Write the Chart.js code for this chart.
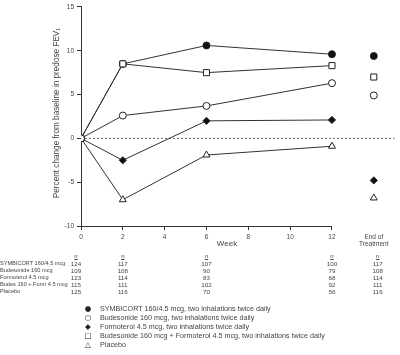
<!DOCTYPE html>
<html>
<head>
<meta charset="utf-8">
<script src="https://cdn.jsdelivr.net/npm/chart.js@4"></script>
<style>
  body { margin: 0; background: #fff; }
  #wrap { position: relative; width: 400px; height: 355px; font-family: "Liberation Sans", Arial, sans-serif; color: #444; }
  #myChart { position: absolute; left: 0; top: 0; }
  .t { position: absolute; white-space: nowrap; line-height: 1; }
  .sym { font-family: "DejaVu Sans", sans-serif; color: #222; }
</style>
</head>
<body>
<div id="wrap">
  <canvas id="myChart" width="400" height="355"></canvas>
</div>
<script>
const ctx = document.getElementById('myChart');
const wrap = document.getElementById('wrap');

// weeks of measurement, plus the "End of Treatment" column placed at x = 14
const weeks = [0, 2, 6, 12];
const EOT = 14;
const xTicks = [0, 2, 4, 6, 8, 10, 12, EOT];

// percent change from baseline in predose FEV1
const symbicort   = [0, 8.5, 10.6, 9.6];
const budesonide  = [0, 2.6, 3.7, 6.3];
const formoterol  = [0, -2.5, 2.0, 2.1];
const combination = [0, 8.5, 7.5, 8.3];
const placebo     = [0, -7.0, -1.9, -0.9];

// end of treatment values
const symbicortEot   = 9.4;
const budesonideEot  = 4.9;
const formoterolEot  = -4.8;
const combinationEot = 7.0;
const placeboEot     = -6.8;

// n table
const tableRows = ['SYMBICORT 160/4.5 mcg', 'Budesonide 160 mcg', 'Formoterol 4.5 mcg', 'Budes 160 + Form 4.5 mcg', 'Placebo'];
const tableCols = [0, 2, 6, 12, EOT];
const nSymbicort   = [124, 117, 107, 100, 117];
const nBudesonide  = [109, 108, 90, 79, 108];
const nFormoterol  = [123, 114, 83, 68, 114];
const nCombination = [115, 111, 102, 92, 111];
const nPlacebo     = [125, 116, 70, 56, 116];

const legendSymbols = ['\u25CF', '\u25CB', '\u25C6', '\u25A1', '\u25B3'];
const legendLabels = [
  'SYMBICORT 160/4.5 mcg, two inhalations twice daily',
  'Budesonide 160 mcg, two inhalations twice daily',
  'Formoterol 4.5 mcg, two inhalations twice daily',
  'Budesonide 160 mcg + Formoterol 4.5 mcg, two inhalations twice daily',
  'Placebo'
];

function pts(values) {
  return values.map((v, i) => ({ x: weeks[i], y: v }));
}

const LINE = '#333';

function series(values, style, radius, fill) {
  return {
    data: pts(values),
    borderColor: LINE,
    borderWidth: 1,
    pointStyle: style,
    pointRadius: radius,
    pointBackgroundColor: fill,
    pointBorderColor: '#222',
    pointBorderWidth: 1
  };
}

function eot(value, style, radius, fill) {
  return {
    data: [{ x: EOT, y: value }],
    showLine: false,
    pointStyle: style,
    pointRadius: radius,
    pointBackgroundColor: fill,
    pointBorderColor: '#222',
    pointBorderWidth: 1
  };
}

// draws the x axis line only across weeks 0..12
const xAxisLine = {
  id: 'xAxisLine',
  beforeDatasetsDraw(chart) {
    const x = chart.scales.x;
    const c = chart.ctx;
    const y = chart.chartArea.bottom;
    c.save();
    c.strokeStyle = LINE;
    c.lineWidth = 1;
    c.beginPath();
    c.moveTo(x.getPixelForValue(0), y + 0.5);
    c.lineTo(x.getPixelForValue(12), y + 0.5);
    c.stroke();
    c.restore();
  }
};

const chart = new Chart(ctx, {
  type: 'line',
  data: {
    datasets: [
      series(budesonide, 'circle', 3.5, '#fff'),
      series(combination, 'rect', 4.3, '#fff'),
      series(placebo, 'triangle', 4, '#fff'),
      series(formoterol, 'rectRot', 3.6, '#111'),
      series(symbicort, 'circle', 3.5, '#111'),
      eot(budesonideEot, 'circle', 3.5, '#fff'),
      eot(combinationEot, 'rect', 4.3, '#fff'),
      eot(placeboEot, 'triangle', 4, '#fff'),
      eot(formoterolEot, 'rectRot', 3.6, '#111'),
      eot(symbicortEot, 'circle', 3.5, '#111'),
      {
        data: [{ x: 0, y: 0 }, { x: 15, y: 0 }],
        borderColor: '#666',
        borderWidth: 1,
        borderDash: [2, 2],
        pointRadius: 0,
        order: 10
      }
    ]
  },
  options: {
    responsive: false,
    animation: false,
    layout: { padding: { top: 4, left: 0, right: 0, bottom: 0 } },
    plugins: { legend: { display: false }, tooltip: { enabled: false } },
    scales: {
      x: {
        type: 'linear',
        min: 0,
        max: 15,
        afterBuildTicks: s => { s.ticks = xTicks.map(v => ({ value: v })); },
        afterFit: s => { s.height = 129; },
        border: { display: false },
        grid: {
          drawOnChartArea: false,
          tickLength: 4,
          tickColor: c => (c.tick && c.tick.value === EOT) ? 'rgba(0,0,0,0)' : LINE
        },
        ticks: {
          callback: v => v === EOT ? ['End of', 'Treatment'] : v,
          font: { family: 'Liberation Sans', size: 6.5 },
          color: '#444',
          padding: 3,
          maxRotation: 0,
          autoSkip: false
        }
      },
      y: {
        min: -10,
        max: 15,
        afterFit: s => { s.width = 81; },
        border: { color: LINE },
        grid: { drawOnChartArea: false, tickLength: 4, tickColor: LINE },
        ticks: {
          stepSize: 5,
          font: { family: 'Liberation Sans', size: 6.5 },
          color: '#444',
          padding: 3
        },
        title: {
          display: true,
          text: '   Percent change from baseline in predose FEV\u2081',
          font: { family: 'Liberation Sans', size: 8.2 },
          color: '#444',
          padding: { top: 52, bottom: 0 }
        }
      }
    }
  },
  plugins: [xAxisLine]
});

// text below the plot: axis title, n table and legend
function place(text, x, y, size, align, cls) {
  const d = document.createElement('div');
  d.className = 't' + (cls ? ' ' + cls : '');
  d.textContent = text;
  d.style.fontSize = size + 'px';
  d.style.left = x + 'px';
  d.style.top = y + 'px';
  const tx = align === 'left' ? '0' : '-50%';
  d.style.transform = 'translate(' + tx + ', -50%)';
  wrap.appendChild(d);
  return d;
}

const xs = chart.scales.x;
place('Week', 227, 244, 8, 'center');

const nRows = [nSymbicort, nBudesonide, nFormoterol, nCombination, nPlacebo];
tableCols.forEach((c, j) => {
  const px = xs.getPixelForValue(c) + (c === 0 ? -5 : 0) + (c === EOT ? 4 : 0);
  place('n', px, 256, 6, 'center').style.textDecoration = 'underline';
  nRows.forEach((row, i) => {
    place(String(row[j]), px, 263.5 + i * 7, 6.2, 'center');
  });
});
tableRows.forEach((label, i) => {
  place(label, 0, 263.5 + i * 7, 5.6, 'left');
});

legendLabels.forEach((label, i) => {
  place(legendSymbols[i], 88, 309 + i * 9, 7.5, 'center', 'sym');
  place(label, 100, 309 + i * 9, 7.2, 'left');
});
</script>
</body>
</html>
